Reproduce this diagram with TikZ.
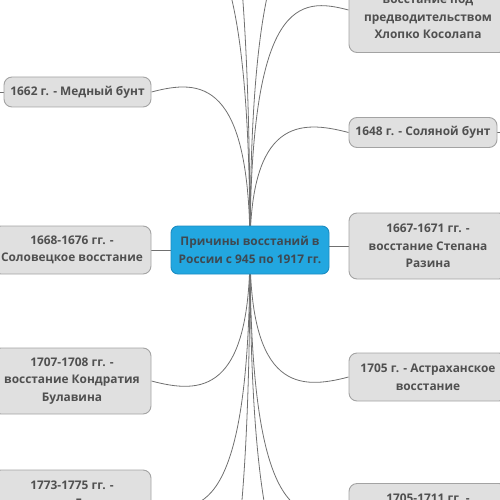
\documentclass[tikz,border=0pt]{standalone}
\usepackage{fontspec}
\setmainfont{Open Sans}
\usetikzlibrary{calc,backgrounds}
\definecolor{rootfill}{HTML}{22A7E0}
\definecolor{rootedge}{HTML}{1B8CC2}
\definecolor{roottext}{HTML}{3E4952}
\definecolor{boxfill}{HTML}{E0E0E0}
\definecolor{boxedge}{HTML}{A3A3A3}
\definecolor{boxtext}{HTML}{505050}
\definecolor{linkcol}{HTML}{707070}
\newcommand\linkto[2]{\draw[conn] (root.center) .. controls ($(root.center|-#1)+(0,#2)$) and ($(#1)!0.5!(root.center|-#1)+(0,#2)$) .. (#1);}
\begin{document}
\begin{tikzpicture}[x=1pt,y=-1pt,
  topic/.style={draw=boxedge, fill=boxfill, line width=0.9pt, rounded corners=8pt, text=boxtext, font=\bfseries\fontsize{11.9}{17.5}\selectfont, align=center, inner sep=0pt},
  rootnode/.style={topic, draw=rootedge, fill=rootfill, text=roottext, rounded corners=7pt},
  conn/.style={draw=linkcol, line width=0.8pt}]
\useasboundingbox (0,0) rectangle (500,500);
\clip (0,0) rectangle (500,500);
\node[rootnode, minimum width=158pt, minimum height=48pt] (root) at (250,250) {Причины восстаний в\\России с 945 по 1917 гг.};
\node[topic, minimum width=147pt, minimum height=30pt] (med) at (77.5,92) {1662 г. - Медный бунт};
\node[topic, minimum width=158pt, minimum height=48pt] (sol) at (72,250) {1668-1676 гг. -\\Соловецкое восстание};
\node[topic, minimum width=158pt, minimum height=66pt] (bul) at (72,381) {1707-1708 гг. -\\восстание Кондратия\\Булавина};
\node[topic, minimum width=158pt, minimum height=48pt] (pug) at (72,494) {1773-1775 гг. -\\восстание Емельяна};
\node[topic, minimum width=158pt, minimum height=69pt] (hlo) at (428,18) {восстание под\\предводительством\\Хлопко Косолапа};
\node[topic, minimum width=148pt, minimum height=30pt] (sal) at (423,132.5) {1648 г. - Соляной бунт};
\node[topic, minimum width=158pt, minimum height=66pt] (raz) at (428,246) {1667-1671 гг. -\\восстание Степана\\Разина};
\node[topic, minimum width=158pt, minimum height=48pt] (ast) at (428,377) {1705 г. - Астраханское\\восстание};
\node[topic, minimum width=158pt, minimum height=30pt] (bash) at (428,498.5) {1705-1711 гг. -};
\coordinate (hloE) at ([yshift=8pt]hlo.west);
\coordinate (pugE) at ([yshift=-9pt]pug.east);
\coordinate (bashE) at ([yshift=-11.5pt]bash.west);
\coordinate (offA) at (151,-70);
\coordinate (offB) at (151,-200);
\coordinate (offC) at (349,-80);
\coordinate (offF) at (151,680);
\coordinate (offG) at (349,600);
\coordinate (medStub) at (-20,92);
\coordinate (salStub) at (520,132.5);
\begin{scope}[on background layer]
\linkto{med.east}{-13}
\linkto{hloE}{-13}
\linkto{sal.west}{-13}
\linkto{offA}{-13}
\linkto{offB}{-13}
\linkto{offC}{-13}
\linkto{ast.west}{13}
\linkto{bul.east}{13}
\linkto{pugE}{13}
\linkto{bashE}{13}
\linkto{offF}{13}
\linkto{offG}{13}
\draw[conn] (sol.east) -- (root.west);
\draw[conn] (root.east|-raz.west) -- (raz.west);
\draw[conn] (med.west) -- (medStub);
\draw[conn] (sal.east) -- (salStub);
\end{scope}
\end{tikzpicture}
\end{document}
